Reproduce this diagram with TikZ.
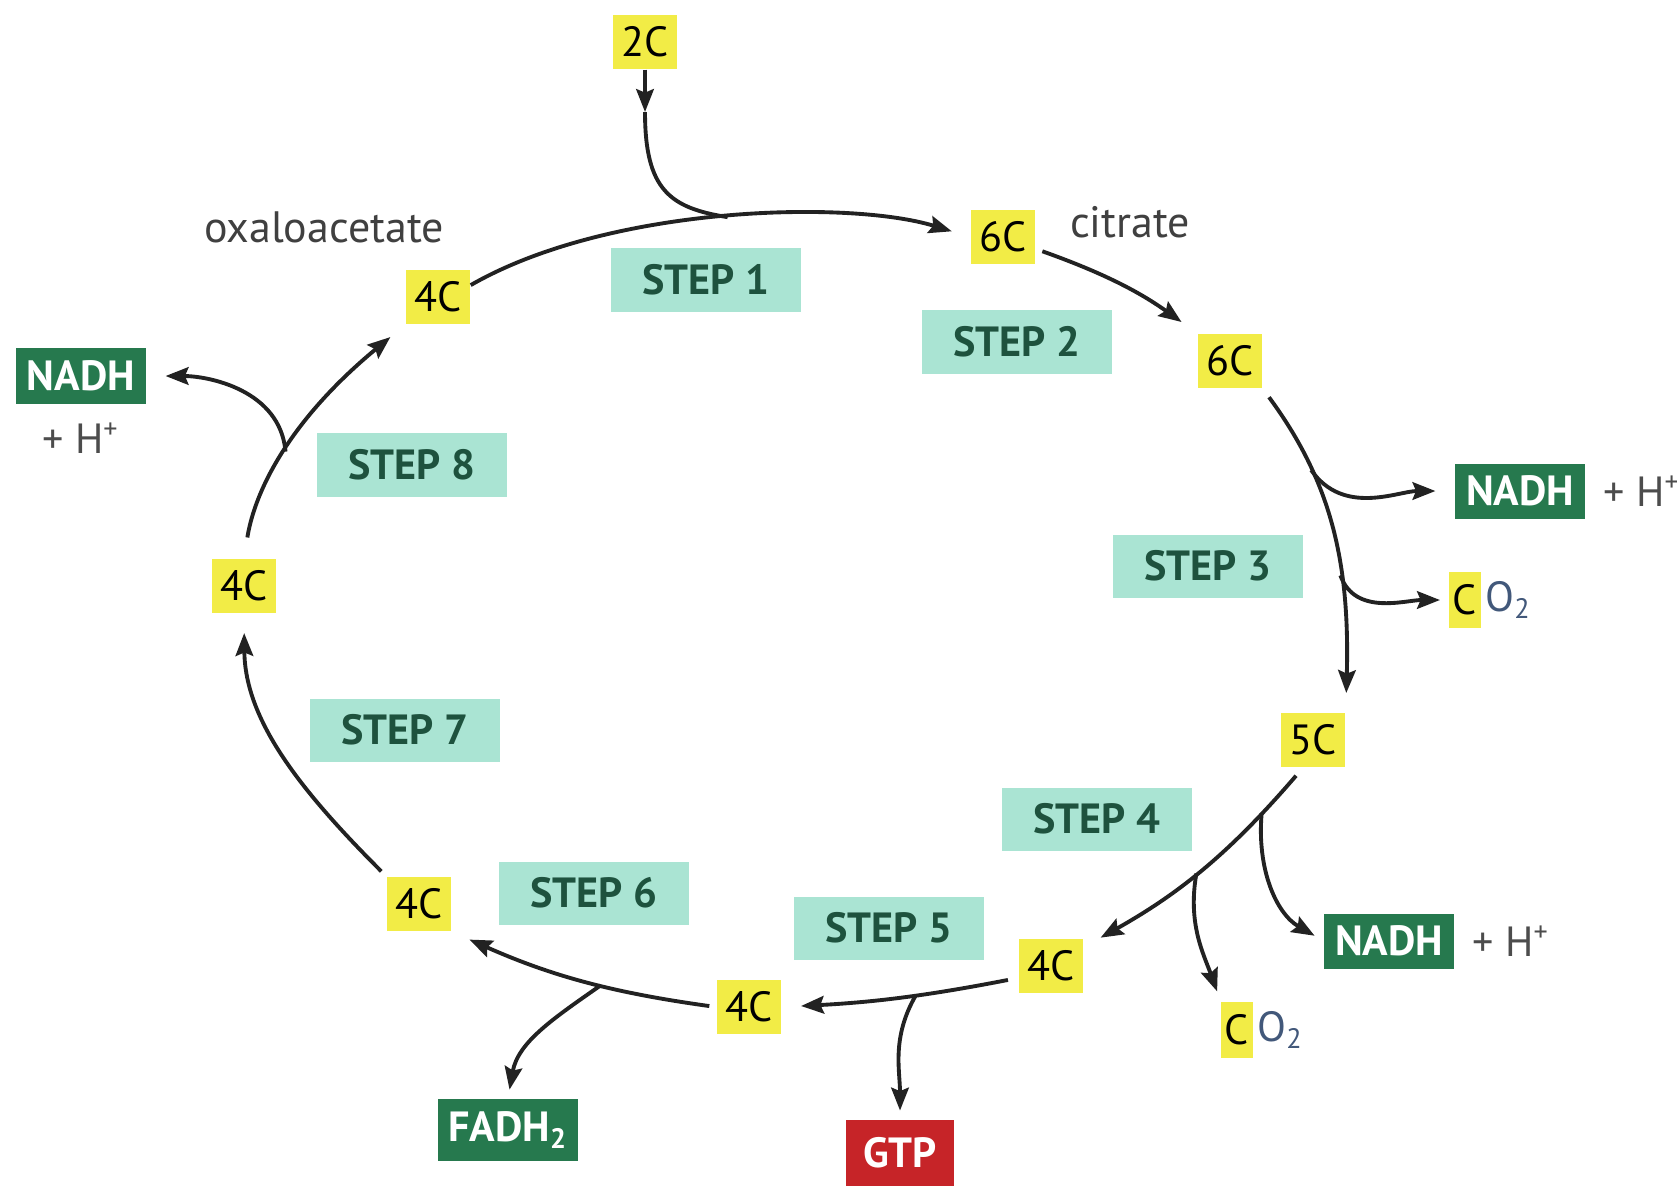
\documentclass[tikz,border=0pt]{standalone}
\usepackage{fontspec}
\setmainfont{PT Sans}
\usetikzlibrary{arrows.meta,positioning}

\definecolor{carbony}{RGB}{242,236,70}
\definecolor{stepmint}{RGB}{170,228,211}
\definecolor{stepink}{RGB}{30,82,62}
\definecolor{nadhgreen}{RGB}{38,121,78}
\definecolor{gtpred}{RGB}{198,36,40}
\definecolor{oxyblue}{RGB}{66,88,122}
\definecolor{arrowink}{RGB}{34,34,34}

\tikzset{
  carbon/.style={fill=carbony, minimum width=0.64cm, minimum height=0.54cm, inner sep=1pt, font=\fontsize{12}{14}\selectfont},
  stepbox/.style={fill=stepmint, text=stepink, minimum width=1.9cm, minimum height=0.63cm, font=\bfseries\fontsize{12}{14}\selectfont},
  carrier/.style={fill=nadhgreen, text=white, minimum width=1.28cm, minimum height=0.55cm, inner xsep=3pt, font=\bfseries\fontsize{12}{14}\selectfont},
  hplus/.style={text=black!70, inner sep=1pt, font=\fontsize{12}{14}\selectfont},
  cyclename/.style={text=black!75, font=\fontsize{12.5}{14}\selectfont},
  flow/.style={draw=arrowink, line width=1.1pt, -{Stealth[length=6.5pt,width=5pt,inset=1pt]}, shorten >=5.5pt},
  joint/.style={draw=arrowink, line width=1.1pt},
}

\begin{document}
\begin{tikzpicture}[x=0.01cm,y=-0.01cm]
\useasboundingbox (0,0) rectangle (1677,1187);

% carbon skeletons round the cycle
\foreach \id/\x/\y/\t in {c0/645/42/2C, c1/1003/237/6C, c2/1230/361/6C, c3/1313/740/5C,
    c4/1051/966/4C, c5/749/1007/4C, c6/419/904/4C, c7/244/586/4C, c8/438/297/4C}
  \node[carbon] (\id) at (\x,\y) {\t};

\node[cyclename] (oxa) at (324,227) {oxaloacetate};
\node[cyclename] (cit) at (1130,222) {citrate};

\foreach \n/\x/\y in {1/706/280, 2/1017/342, 3/1208/566, 4/1097/819,
    5/889/928, 6/594/893, 7/405/730, 8/412/465}
  \node[stepbox] (s\n) at (\x,\y) {STEP \n};

% products
\node[carrier] (n1) at (1520,491) {NADH};
\node[hplus, right=4pt of n1] (h1) {+ H\textsuperscript{+}};
\node[carbon, minimum width=0.3cm, minimum height=0.56cm] (co2a) at (1465,600) {C};
\node[text=oxyblue, inner sep=1pt, right=0pt of co2a, font=\fontsize{12}{14}\selectfont] (o2a) {O\textsubscript{2}};
\node[carrier] (n2) at (1389,941) {NADH};
\node[hplus, right=4pt of n2] (h2) {+ H\textsuperscript{+}};
\node[carbon, minimum width=0.3cm, minimum height=0.56cm] (co2b) at (1237,1030) {C};
\node[text=oxyblue, inner sep=1pt, right=0pt of co2b, font=\fontsize{12}{14}\selectfont] (o2b) {O\textsubscript{2}};
\node[carrier, minimum width=1.3cm, minimum height=0.62cm] (fadh) at (508,1130) {FADH\textsubscript{2}};
\node[carrier, fill=gtpred, minimum width=1.07cm, minimum height=0.66cm] (gtp) at (900,1153) {GTP};
\node[carrier] (n3) at (81,376) {NADH};
\node[hplus, below=4pt of n3] (h3) {+ H\textsuperscript{+}};

% step 1, with acetyl coming in from above
\draw[flow] (c8.20) .. controls (610,205) and (850,200) .. (c1.west) coordinate[pos=.5] (j1);
\coordinate (k0) at (645,112);
\draw[flow, shorten >=0pt] (c0.south) -- (k0);
\draw[joint] (k0) .. controls (645,190) and (670,208) .. (j1);

% steps 2 and 3
\draw[flow, shorten <=2pt] (c1.-20) to[bend left=8] (c2.north west);
\draw[flow, shorten <=3pt] (c2.south east) .. controls (1330,480) and (1350,560) .. (c3.north east)
  coordinate[pos=.3] (jn1) coordinate[pos=.65] (jn2);
\draw[flow] (jn1) to[out=-55,in=180] (n1.west);
\draw[flow, shorten >=2.5pt] (jn2) to[out=-70,in=180] (co2a.west);

% step 4
\draw[flow, shorten <=3pt] (c3.250) to[bend left=10] coordinate[pos=.2] (jm1) coordinate[pos=.53] (jm2) (c4.30);
\draw[flow, shorten >=3pt] (jm1) to[out=-95,in=150] (n2.west);
\draw[flow, shorten >=3pt] (jm2) to[out=-100,in=110] (co2b.north west);

% steps 5 and 6
\draw[flow, shorten <=3pt] (c4.200) to[bend left=4] coordinate[pos=.43] (jg) (c5.east);
\draw[flow, shorten >=2.5pt] (jg) to[out=-120,in=90] (gtp.north);
\draw[flow, shorten <=2pt] (c5.west) to[bend left=8] coordinate[pos=.42] (jf) (c6.south east);
\draw[flow, shorten >=2.5pt] (jf) to[out=-145,in=80] (fadh.north);

% steps 7 and 8
\draw[flow, shorten <=2pt] (c6.north west) .. controls (300,790) and (245,720) .. (c7.south);
\draw[flow, shorten <=6pt] (c7.north) .. controls (255,490) and (290,420) .. (c8.south west) coordinate[pos=.5] (jo);
\draw[flow] (jo) to[out=95,in=0] (n3.east);
%\draw[help lines] (0,0) grid[step=100] (1677,1187);
\end{tikzpicture}
\end{document}
